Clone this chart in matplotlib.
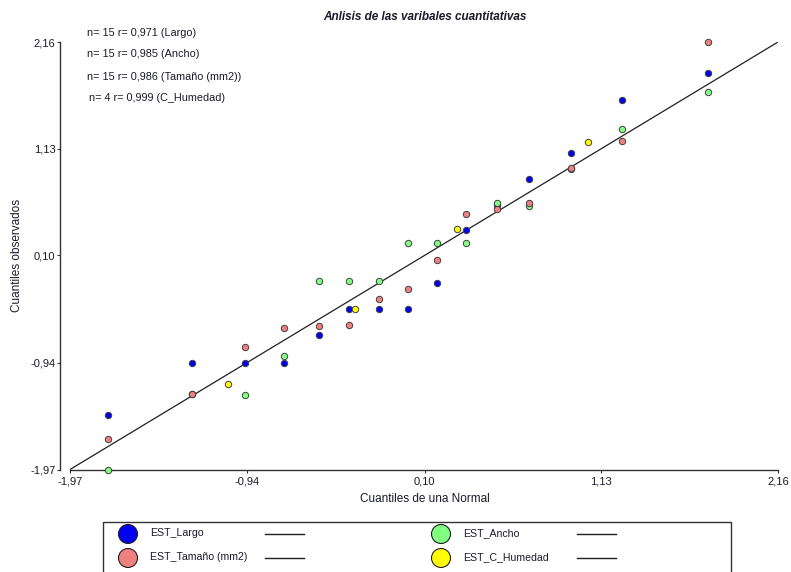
import matplotlib
matplotlib.use("Agg")
import matplotlib.pyplot as plt
from matplotlib.patches import Rectangle, Ellipse

plt.rcParams['font.family'] = ['Liberation Sans', 'DejaVu Sans']

# Normal quantiles (x)
q15 = [-1.75, -1.26, -0.95, -0.72, -0.52, -0.34, -0.17, 0.00, 0.17, 0.34, 0.52, 0.71, 0.95, 1.25, 1.75]
q4 = [-1.05, -0.31, 0.29, 1.05]

# Observed standardized quantiles
largo = [-1.44, -0.94, -0.94, -0.94, -0.67, -0.42, -0.42, -0.42, -0.17, 0.34, 0.59, 0.84, 1.09, 1.60, 1.86]
ancho = [-1.97, -1.24, -1.25, -0.87, -0.15, -0.15, -0.15, 0.22, 0.22, 0.22, 0.60, 0.58, 0.93, 1.32, 1.68]
tamano = [-1.68, -1.24, -0.79, -0.60, -0.58, -0.57, -0.32, -0.23, 0.05, 0.50, 0.55, 0.60, 0.94, 1.20, 2.16]
humedad = [-1.14, -0.42, 0.35, 1.19]

ticks = [-1.97, -0.94, 0.10, 1.13, 2.16]
tick_labels = ["-1,97", "-0,94", "0,10", "1,13", "2,16"]

series_names = ["EST_Largo", "EST_Ancho", "EST_Tamaño (mm2)", "EST_C_Humedad"]
colors = ["#0000f0", "#80ff80", "#f08080", "#ffff00"]
stats = ["n= 15 r= 0,971 (Largo)", "n= 15 r= 0,985 (Ancho)",
         "n= 15 r= 0,986 (Tamaño (mm2))", "n= 4 r= 0,999 (C_Humedad)"]

W, H = 791, 572
fig = plt.figure(figsize=(W / 100, H / 100), dpi=100)
ax = fig.add_axes([70 / W, (H - 469.5) / H, 708 / W, 427.5 / H])

ax.plot([ticks[0], ticks[-1]], [ticks[0], ticks[-1]], color="#202020", lw=0.9, zorder=2)

data = [(q15, largo), (q15, ancho), (q15, tamano), (q4, humedad)]
for (xs, ys), c in zip(data, colors):
    ax.plot(xs, ys, ls="none", marker="o", ms=4.6, mfc=c, mec="#404040", mew=0.7,
            clip_on=False, zorder=3)

ax.set_xlim(ticks[0], ticks[-1])
ax.set_ylim(ticks[0], ticks[-1])
ax.set_xticks(ticks)
ax.set_xticklabels(tick_labels)
ax.set_yticks(ticks)
ax.set_yticklabels(tick_labels)
ax.tick_params(labelsize=8, length=2.5, width=0.8, colors="#333333", labelcolor="#1a1a2a")
ax.tick_params(axis="y", pad=1.0)
ax.tick_params(axis="x", pad=2.5)
ax.spines['top'].set_visible(False)
ax.spines['right'].set_visible(False)
ax.spines['left'].set_position(('outward', 7))
for s in ('left', 'bottom'):
    ax.spines[s].set_color("#333333")
    ax.spines[s].set_linewidth(1.0)

ax.set_xlabel("Cuantiles de una Normal", fontsize=8.5, color="#1a1a2a")
ax.set_ylabel("Cuantiles observados", fontsize=8.5, color="#1a1a2a")
ax.xaxis.set_label_coords((425 - 70) / 708, -(499 - 469.5) / 427.5)
ax.yaxis.set_label_coords((17 - 70) / 708, (469.5 - 255) / 427.5)
ax.xaxis.label.set_va("center")
ax.yaxis.label.set_va("center")

fig.text(425 / W, 1 - 17 / H, "Anlisis de las varibales cuantitativas", ha="center", va="center",
         fontsize=8.5, fontweight="bold", fontstyle="italic", color="#1a1a2a")

# overlay in pixel coordinates for stats text and legend
ov = fig.add_axes([0, 0, 1, 1])
ov.set_xlim(0, W)
ov.set_ylim(H, 0)
ov.axis("off")
ov.patch.set_alpha(0)

for (yy, xx), t in zip([(33, 87), (54, 87), (77, 87), (98, 89)], stats):
    ov.text(xx, yy, t, fontsize=7.8, va="center", ha="left", color="#1a1a2a")

ov.add_patch(Rectangle((103, 522), 628, 60, fill=False, ec="#333333", lw=1.0))
legend_pos = [(128, 534, 150, 265), (441, 534, 463, 577), (128, 558, 150, 265), (441, 558, 463, 577)]
for (cx, cy, tx, lx), name, c in zip(legend_pos, series_names, colors):
    ov.add_patch(Ellipse((cx, cy), 19, 19, fc=c, ec="#202020", lw=0.8))
    ov.text(tx, cy - 1, name, fontsize=7.6, va="center", ha="left", color="#1a1a2a")
    ov.plot([lx, lx + 39], [cy, cy], color="#202020", lw=1.0)

fig.savefig("out.png", dpi=100)
